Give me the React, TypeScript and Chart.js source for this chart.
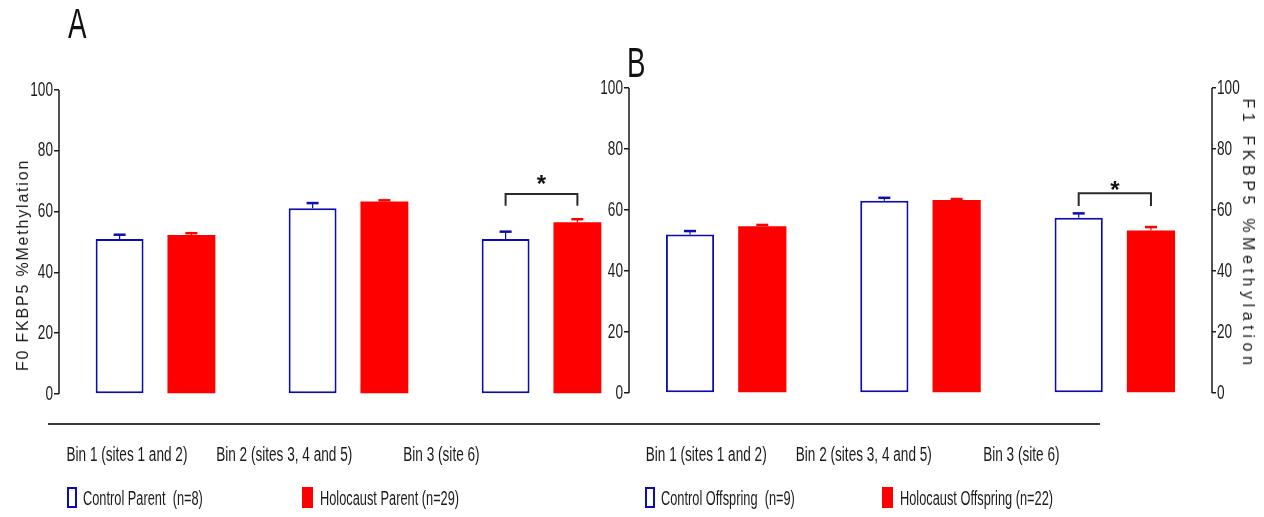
import React, { useEffect, useRef } from 'react';
import { Chart, registerables } from 'chart.js';
Chart.register(...registerables);

// ---------- data ----------
const bins = ['Bin 1 (sites 1 and 2)', 'Bin 2 (sites 3, 4 and 5)', 'Bin 3 (site 6)'];
const yTickValues = [0, 20, 40, 60, 80, 100];

const parentControl = [51.0, 61.1, 51.0];
const parentControlErr = [1.4, 1.7, 2.4];
const parentHolocaust = [52.3, 63.3, 56.5];
const parentHolocaustErr = [0.6, 0.4, 1.0];

const offspringControl = [52.0, 63.0, 57.5];
const offspringControlErr = [1.1, 1.0, 1.4];
const offspringHolocaust = [54.7, 63.3, 53.3];
const offspringHolocaustErr = [0.4, 0.3, 1.1];

// significance bracket: [bin index, bracket level, leg end level, star level]
const parentSig = [2, 65.8, 61.9, 71.1];
const offspringSig = [2, 65.5, 61.3, 68.5];

const legendParent = ['Control Parent  (n=8)', 'Holocaust Parent (n=29)'];
const legendOffspring = ['Control Offspring  (n=9)', 'Holocaust Offspring (n=22)'];
const titleParent = 'F0 FKBP5 %Methylation';
const titleOffspring = 'F1 FKBP5 %Methylation';
const panelLetters = ['A', 'B'];

// ---------- styles ----------
const NARROW = "'Liberation Sans', sans-serif"; // drawn horizontally condensed
const SANS = 'Arial, sans-serif';
const SQUEEZE = 0.68;
const BLUE = '#0c0cb0';
const RED = '#ff0000';
const INK = '#1a1a1a';

// condense canvas text that uses the NARROW family (mimics a narrow typeface)
const narrowTextPlugin = {
  id: 'narrowText',
  beforeDraw(chart: any) {
    const ctx: any = chart.ctx;
    if (ctx.__narrowed) return;
    ctx.__narrowed = true;
    const orig = ctx.fillText;
    ctx.fillText = function (text: string, x: number, y: number, maxWidth?: number) {
      if (String(this.font).indexOf('Liberation Sans') >= 0) {
        this.save();
        this.translate(x, y);
        this.scale(SQUEEZE, 1);
        if (maxWidth !== undefined) orig.call(this, text, 0, 0, maxWidth / SQUEEZE);
        else orig.call(this, text, 0, 0);
        this.restore();
      } else if (maxWidth !== undefined) {
        orig.call(this, text, x, y, maxWidth);
      } else {
        orig.call(this, text, x, y);
      }
    };
  },
};

const errorBarsPlugin = {
  id: 'errorBars',
  afterDatasetsDraw(chart: any) {
    const ctx = chart.ctx;
    const y = chart.scales.y;
    chart.data.datasets.forEach((ds: any, i: number) => {
      const meta = chart.getDatasetMeta(i);
      meta.data.forEach((bar: any, j: number) => {
        const v = ds.data[j];
        const e = ds.errors[j];
        const base = y.getPixelForValue(v);
        const top = y.getPixelForValue(v + e);
        ctx.save();
        ctx.strokeStyle = ds.errorColor;
        ctx.lineWidth = 1.2;
        ctx.beginPath();
        ctx.moveTo(bar.x, base);
        ctx.lineTo(bar.x, top);
        ctx.stroke();
        ctx.lineWidth = 2.5;
        ctx.beginPath();
        ctx.moveTo(bar.x - 6, top);
        ctx.lineTo(bar.x + 6, top);
        ctx.stroke();
        ctx.restore();
      });
    });
  },
};

const bracketPlugin = {
  id: 'sigBracket',
  afterDatasetsDraw(chart: any, _args: any, o: any) {
    if (!o || !o.sig) return;
    const [bin, level, leg, star] = o.sig;
    const ctx = chart.ctx;
    const y = chart.scales.y;
    const a = chart.getDatasetMeta(0).data[bin];
    const b = chart.getDatasetMeta(1).data[bin];
    const yb = y.getPixelForValue(level);
    const yl = y.getPixelForValue(leg);
    ctx.save();
    ctx.strokeStyle = '#2a2a2a';
    ctx.lineWidth = 2;
    ctx.beginPath();
    ctx.moveTo(a.x, yl);
    ctx.lineTo(a.x, yb);
    ctx.lineTo(b.x, yb);
    ctx.lineTo(b.x, yl);
    ctx.stroke();
    ctx.fillStyle = '#111';
    ctx.font = `bold 24px ${SANS}`;
    ctx.textAlign = 'center';
    ctx.textBaseline = 'alphabetic';
    ctx.fillText('*', (a.x + b.x) / 2, y.getPixelForValue(star) + 14);
    ctx.restore();
  },
};

const axisLinesPlugin = {
  id: 'axisLines',
  afterDraw(chart: any, _args: any, o: any) {
    const ctx = chart.ctx;
    const area = chart.chartArea;
    const top = yTickValues[yTickValues.length - 1];
    ctx.save();
    ctx.strokeStyle = INK;
    ctx.lineWidth = 1.5;
    ['y', 'y2'].forEach((id) => {
      const s = chart.scales[id];
      if (!s) return;
      const x = id === 'y' ? area.left : area.right;
      ctx.beginPath();
      ctx.moveTo(x, s.getPixelForValue(0));
      ctx.lineTo(x, s.getPixelForValue(top));
      ctx.stroke();
    });
    if (o && o.from != null) {
      ctx.strokeStyle = '#3a3a3a';
      ctx.lineWidth = 2;
      ctx.beginPath();
      ctx.moveTo(o.from, area.bottom);
      ctx.lineTo(o.to, area.bottom);
      ctx.stroke();
    }
    ctx.restore();
  },
};

function yAxis(position: string, yMin: number, width: number, tickLength: number) {
  return {
    type: 'linear',
    position,
    min: yMin,
    max: 100,
    bounds: 'data',
    beginAtZero: false,
    afterBuildTicks: (s: any) => {
      s.ticks = yTickValues.map((v) => ({ value: v }));
    },
    afterFit: (s: any) => {
      s.width = width;
    },
    ticks: {
      padding: 1,
      color: INK,
      font: { family: NARROW, size: 20 },
      callback: (v: any) => String(v),
    },
    grid: { drawOnChartArea: false, drawTicks: true, tickLength, color: INK, lineWidth: 1.5 },
    border: { display: false },
  };
}

function panelConfig(p: any) {
  const scales: any = {
    x: { type: 'category', display: false, offset: true },
    xl: {
      type: 'linear',
      position: 'bottom',
      min: p.labelMin,
      max: p.labelMax,
      bounds: 'data',
      offset: false,
      afterBuildTicks: (s: any) => {
        s.ticks = bins.map((_, i) => ({ value: i + 1 }));
      },
      afterFit: (s: any) => {
        s.height = 93;
      },
      grid: { display: false, offset: false },
      border: { display: false },
      ticks: {
        autoSkip: false,
        maxRotation: 0,
        padding: 11,
        color: INK,
        font: { family: NARROW, size: 20 },
        callback: (v: any) => bins[Math.round(v) - 1],
      },
    },
    y: yAxis('left', p.yMin, p.leftWidth, 5),
  };
  if (p.rightWidth) scales.y2 = yAxis('right', p.yMin, p.rightWidth, 4);
  return {
    type: 'bar',
    data: {
      labels: bins,
      datasets: [
        {
          label: p.legend[0],
          data: p.control,
          errors: p.controlErr,
          errorColor: BLUE,
          backgroundColor: '#ffffff',
          borderColor: BLUE,
          borderWidth: 2,
          borderSkipped: false,
          categoryPercentage: 0.744,
          barPercentage: 0.667,
          xAxisID: 'x',
          yAxisID: 'y',
        },
        {
          label: p.legend[1],
          data: p.holo,
          errors: p.holoErr,
          errorColor: RED,
          backgroundColor: RED,
          borderColor: RED,
          borderWidth: 0,
          categoryPercentage: 0.744,
          barPercentage: 0.667,
          xAxisID: 'x',
          yAxisID: 'y',
        },
      ],
    },
    options: {
      animation: false,
      responsive: false,
      maintainAspectRatio: false,
      devicePixelRatio: 1,
      layout: { padding: { left: 0, top: p.top, right: p.padRight, bottom: 0 } },
      scales,
      plugins: {
        legend: { display: false },
        tooltip: { enabled: false },
        sigBracket: { sig: p.sig },
        axisLines: { from: p.lineFrom, to: p.lineTo },
      },
    },
    plugins: [narrowTextPlugin, errorBarsPlugin, bracketPlugin, axisLinesPlugin],
  } as any;
}

function LegendItem({ x, filled, text }: { x: number; filled: boolean; text: string }) {
  return (
    <div style={{ position: 'absolute', left: x, top: 487, height: 21, display: 'flex', alignItems: 'center' }}>
      <span
        style={{
          display: 'inline-block',
          width: filled ? 11 : 10,
          height: 21,
          boxSizing: 'border-box',
          border: filled ? 'none' : `2px solid ${BLUE}`,
          background: filled ? RED : '#fff',
        }}
      />
      <span
        style={{
          marginLeft: filled ? 7 : 6,
          font: `20px ${NARROW}`,
          lineHeight: 1,
          color: INK,
          whiteSpace: 'pre',
          display: 'inline-block',
          transform: 'scaleX(0.64)',
          transformOrigin: 'left center',
        }}
      >
        {text}
      </span>
    </div>
  );
}

export default function App() {
  const refA = useRef<HTMLCanvasElement>(null);
  const refB = useRef<HTMLCanvasElement>(null);

  useEffect(() => {
    const a = new Chart(
      refA.current as HTMLCanvasElement,
      panelConfig({
        control: parentControl,
        controlErr: parentControlErr,
        holo: parentHolocaust,
        holoErr: parentHolocaustErr,
        legend: legendParent,
        sig: parentSig,
        yMin: -9.87,
        top: 90,
        leftWidth: 59,
        padRight: 1264 - 638,
        labelMin: 0.568,
        labelMax: 4.25,
        lineFrom: 48,
        lineTo: 629,
      })
    );
    const b = new Chart(
      refB.current as HTMLCanvasElement,
      panelConfig({
        control: offspringControl,
        controlErr: offspringControlErr,
        holo: offspringHolocaust,
        holoErr: offspringHolocaustErr,
        legend: legendOffspring,
        sig: offspringSig,
        yMin: -10.16,
        top: 88,
        leftWidth: 629,
        rightWidth: 52,
        padRight: 0,
        labelMin: 0.51,
        labelMax: 4.21,
        lineFrom: 629,
        lineTo: 1100,
      })
    );
    return () => {
      a.destroy();
      b.destroy();
    };
  }, []);

  const letterStyle = (left: number, top: number): React.CSSProperties => ({
    position: 'absolute',
    left,
    top,
    font: `42px ${NARROW}`,
    lineHeight: 1,
    color: '#111',
    transform: 'scaleX(0.66)',
    transformOrigin: 'top left',
  });

  const titleStyle = (cx: number, cy: number, rot: number, spacing: number): React.CSSProperties => ({
    position: 'absolute',
    left: cx,
    top: cy,
    font: `16px ${SANS}`,
    lineHeight: 1,
    letterSpacing: spacing,
    color: INK,
    whiteSpace: 'nowrap',
    transform: `translate(-50%, -50%) rotate(${rot}deg)`,
  });

  return (
    <div style={{ position: 'absolute', left: 0, top: 0, width: 1264, height: 517, background: '#fff', overflow: 'hidden' }}>
      <canvas ref={refA} width={1264} height={517} style={{ position: 'absolute', left: 0, top: 0 }} />
      <canvas ref={refB} width={1264} height={517} style={{ position: 'absolute', left: 0, top: 0 }} />
      <div style={letterStyle(68, 3)}>{panelLetters[0]}</div>
      <div style={letterStyle(627, 42)}>{panelLetters[1]}</div>
      <div style={titleStyle(22.5, 265, -90, 1.8)}>{titleParent}</div>
      <div style={titleStyle(1247.5, 234, 90, 4.6)}>{titleOffspring}</div>
      <LegendItem x={67} filled={false} text={legendParent[0]} />
      <LegendItem x={302} filled={true} text={legendParent[1]} />
      <LegendItem x={645} filled={false} text={legendOffspring[0]} />
      <LegendItem x={882} filled={true} text={legendOffspring[1]} />
    </div>
  );
}
